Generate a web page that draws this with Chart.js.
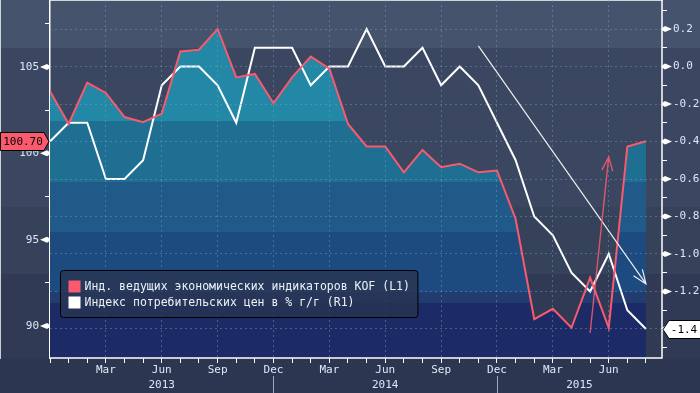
<!DOCTYPE html>
<html lang="ru">
<head>
  <meta charset="UTF-8" />
  <title>KOF и инфляция</title>
  <script src="https://cdn.jsdelivr.net/npm/chart.js"></script>
  <style>
    html, body {
      margin: 0;
      padding: 0;
      background: #2d3650;
    }
    #wrap {
      width: 700px;
      height: 393px;
    }
  </style>
</head>
<body>
  <div id="wrap"><canvas id="chart" width="700" height="393"></canvas></div>

  <script>
    // one point per month boundary, Dec 2012 .. Aug 2015
    const months = ['Dec',
      'Jan', 'Feb', 'Mar', 'Apr', 'May', 'Jun', 'Jul', 'Aug', 'Sep', 'Oct', 'Nov', 'Dec',
      'Jan', 'Feb', 'Mar', 'Apr', 'May', 'Jun', 'Jul', 'Aug', 'Sep', 'Oct', 'Nov', 'Dec',
      'Jan', 'Feb', 'Mar', 'Apr', 'May', 'Jun', 'Jul', 'Aug'];
    const quarterMonths = [3, 6, 9, 12, 15, 18, 21, 24, 27, 30];
    const years = ['2013', '2014', '2015'];
    const yearStarts = [0, 12, 24];

    const kof = [103.6, 101.7, 104.1, 103.5, 102.1, 101.8, 102.3, 105.9, 106.0, 107.2,
      104.4, 104.6, 102.9, 104.4, 105.6, 104.9, 101.7, 100.4, 100.4, 98.9,
      100.2, 99.2, 99.4, 98.9, 99.0, 96.2, 90.4, 91.0, 89.9, 92.8,
      89.9, 100.4, 100.7];
    const cpi = [-0.4, -0.3, -0.3, -0.6, -0.6, -0.5, -0.1, 0.0, 0.0, -0.1,
      -0.3, 0.1, 0.1, 0.1, -0.1, 0.0, 0.0, 0.2, 0.0, 0.0,
      0.1, -0.1, 0.0, -0.1, -0.3, -0.5, -0.8, -0.9, -1.1, -1.2,
      -1.0, -1.3, -1.4];

    const kofTicks = [90, 92.5, 95, 97.5, 100, 102.5, 105, 107.5];
    const kofLabels = [90, 95, 100, 105];
    const cpiTicks = [-1.5, -1.4, -1.3, -1.2, -1.1, -1.0, -0.9, -0.8, -0.7, -0.6,
      -0.5, -0.4, -0.3, -0.2, -0.1, 0.0, 0.1, 0.2, 0.3];
    const cpiLabels = [-1.4, -1.2, -1.0, -0.8, -0.6, -0.4, -0.2, 0.0, 0.2];

    // hand drawn arrows: [month index, value] from -> to
    const cpiArrow = [[23, 0.11], [32, -1.16]];
    const kofArrow = [[29, 89.6], [30, 99.8]];

    const RED = '#f95a6e';
    const TXT = '#dce8f8';
    const GRID = 'rgba(120, 160, 200, 0.45)';
    const FONT = "'DejaVu Sans Mono', monospace";

    // horizontal shading of the whole picture (px from top)
    const bgBands = [[0, 48, '#45536d'], [48, 207, '#3b4660'], [207, 274, '#36415a'],
      [274, 358, '#303a54'], [358, 393, '#2d3650']];
    // shading of the KOF area (fraction of plot height)
    const fillBands = [[0, 0.338, '#2387a6'], [0.338, 0.508, '#1f6f93'], [0.508, 0.648, '#1f5a88'],
      [0.648, 0.816, '#1e4b7f'], [0.816, 0.846, '#233c70'], [0.846, 1, '#1c2a65']];

    function areaFill(context) {
      const a = context.chart.chartArea;
      if (!a) return 'transparent';
      const g = context.chart.ctx.createLinearGradient(0, a.top, 0, a.bottom);
      fillBands.forEach(b => {
        g.addColorStop(b[0], b[2]);
        g.addColorStop(b[1], b[2]);
      });
      return g;
    }

    // fixed box sizes so the plot sits where the original has it
    function fitBox(size, horizontal) {
      return s => {
        if (horizontal) s.height = size; else s.width = size;
        s.paddingTop = 0;
        s.paddingBottom = 0;
        s.paddingLeft = 0;
        s.paddingRight = 0;
      };
    }

    const background = {
      id: 'background',
      beforeDraw(chart) {
        const ctx = chart.ctx;
        ctx.save();
        bgBands.forEach(b => {
          ctx.fillStyle = b[2];
          ctx.fillRect(0, b[0], chart.width, b[1] - b[0]);
        });
        ctx.restore();
      }
    };

    function arrow(ctx, x1, y1, x2, y2, color, width) {
      const ang = Math.atan2(y1 - y2, x1 - x2);
      const len = 15, spread = 0.37;
      ctx.strokeStyle = color;
      ctx.lineWidth = width;
      ctx.beginPath();
      ctx.moveTo(x1, y1);
      ctx.lineTo(x2, y2);
      ctx.moveTo(x2 + len * Math.cos(ang - spread), y2 + len * Math.sin(ang - spread));
      ctx.lineTo(x2, y2);
      ctx.lineTo(x2 + len * Math.cos(ang + spread), y2 + len * Math.sin(ang + spread));
      ctx.stroke();
    }

    const decorations = {
      id: 'decorations',
      afterDraw(chart) {
        const ctx = chart.ctx;
        const a = chart.chartArea;
        const x = chart.scales.x, yL = chart.scales.yL, yR = chart.scales.yR;
        ctx.save();

        // solid axis lines (the grid dash must not reach them)
        ctx.strokeStyle = '#ffffff';
        ctx.lineWidth = 1.5;
        ctx.beginPath();
        ctx.moveTo(a.left, a.bottom);
        ctx.lineTo(a.right, a.bottom);
        ctx.lineTo(a.right, a.top);
        ctx.stroke();

        // little pointers on labelled ticks
        ctx.fillStyle = '#ffffff';
        kofLabels.forEach(v => {
          const y = yL.getPixelForValue(v);
          ctx.beginPath();
          ctx.moveTo(a.left - 10, y);
          ctx.lineTo(a.left - 3, y - 3);
          ctx.lineTo(a.left, y - 1);
          ctx.lineTo(a.left, y + 1);
          ctx.lineTo(a.left - 3, y + 3);
          ctx.closePath();
          ctx.fill();
        });
        cpiLabels.forEach(v => {
          const y = yR.getPixelForValue(v);
          ctx.beginPath();
          ctx.moveTo(a.right + 10, y);
          ctx.lineTo(a.right + 3, y - 3);
          ctx.lineTo(a.right, y - 1);
          ctx.lineTo(a.right, y + 1);
          ctx.lineTo(a.right + 3, y + 3);
          ctx.closePath();
          ctx.fill();
        });

        // years under the months
        ctx.font = '11px ' + FONT;
        ctx.fillStyle = TXT;
        ctx.textAlign = 'center';
        ctx.textBaseline = 'middle';
        years.forEach((yr, i) => {
          const from = x.getPixelForValue(yearStarts[i]);
          const to = i + 1 < yearStarts.length ? x.getPixelForValue(yearStarts[i + 1]) : a.right;
          ctx.fillText(yr, (from + to) / 2, a.bottom + 27);
        });
        ctx.strokeStyle = '#9aa6ba';
        ctx.lineWidth = 1;
        yearStarts.slice(1).forEach(m => {
          const px = Math.round(x.getPixelForValue(m)) + 0.5;
          ctx.beginPath();
          ctx.moveTo(px, a.bottom + 18);
          ctx.lineTo(px, chart.height);
          ctx.stroke();
        });

        // arrows
        arrow(ctx, x.getPixelForValue(cpiArrow[0][0]), yR.getPixelForValue(cpiArrow[0][1]),
          x.getPixelForValue(cpiArrow[1][0]), yR.getPixelForValue(cpiArrow[1][1]), 'rgba(255,255,255,0.9)', 1.2);
        arrow(ctx, x.getPixelForValue(kofArrow[0][0]), yL.getPixelForValue(kofArrow[0][1]),
          x.getPixelForValue(kofArrow[1][0]), yL.getPixelForValue(kofArrow[1][1]), 'rgba(249,90,110,0.85)', 1.4);

        // legend box
        const lx = a.left + 10.5, ly = a.bottom - 87.5;
        ctx.font = '11.5px ' + FONT;
        const labels = chart.data.datasets.map(d => d.label);
        const w = Math.max(...labels.map(t => ctx.measureText(t).width)) + 32;
        ctx.beginPath();
        ctx.roundRect(lx, ly, w, 47, 3);
        ctx.fillStyle = 'rgba(40, 52, 82, 0.8)';
        ctx.fill();
        ctx.strokeStyle = '#000000';
        ctx.lineWidth = 1;
        ctx.stroke();
        ctx.textAlign = 'left';
        chart.data.datasets.forEach((d, i) => {
          const cy = ly + 16 + i * 16;
          ctx.fillStyle = d.borderColor;
          ctx.fillRect(lx + 8, cy - 6, 12, 12);
          ctx.fillStyle = '#eef2f8';
          ctx.fillText(d.label, lx + 24, cy + 1);
        });

        // last value tags
        ctx.font = '11px ' + FONT;
        let ty = Math.round(yL.getPixelForValue(kof[kof.length - 1])) + 0.5;
        ctx.beginPath();
        ctx.moveTo(0.5, ty - 9);
        ctx.lineTo(a.left - 6, ty - 9);
        ctx.lineTo(a.left - 1, ty);
        ctx.lineTo(a.left - 6, ty + 9);
        ctx.lineTo(0.5, ty + 9);
        ctx.closePath();
        ctx.fillStyle = RED;
        ctx.fill();
        ctx.strokeStyle = '#000000';
        ctx.stroke();
        ctx.fillStyle = '#000000';
        ctx.textAlign = 'center';
        ctx.fillText(kof[kof.length - 1].toFixed(2), 23, ty + 1);

        ty = Math.round(yR.getPixelForValue(cpi[cpi.length - 1])) + 0.5;
        ctx.beginPath();
        ctx.moveTo(a.right + 1, ty);
        ctx.lineTo(a.right + 7, ty - 9);
        ctx.lineTo(chart.width + 2, ty - 9);
        ctx.lineTo(chart.width + 2, ty + 9);
        ctx.lineTo(a.right + 7, ty + 9);
        ctx.closePath();
        ctx.fillStyle = '#ffffff';
        ctx.fill();
        ctx.strokeStyle = '#000000';
        ctx.stroke();
        ctx.fillStyle = '#000000';
        ctx.fillText(cpi[cpi.length - 1].toFixed(1), a.right + 22, ty + 1);

        ctx.restore();
      }
    };

    const tickFont = { family: FONT, size: 11 };

    new Chart(document.getElementById('chart'), {
      type: 'line',
      data: {
        datasets: [{
          label: 'Инд. ведущих экономических индикаторов KOF (L1)',
          data: kof.map((v, i) => ({ x: i, y: v })),
          yAxisID: 'yL',
          borderColor: RED,
          borderWidth: 2,
          pointRadius: 0,
          tension: 0,
          fill: 'start',
          backgroundColor: areaFill
        }, {
          label: 'Индекс потребительских цен в % г/г (R1)',
          data: cpi.map((v, i) => ({ x: i, y: v })),
          yAxisID: 'yR',
          borderColor: '#ffffff',
          borderWidth: 2,
          pointRadius: 0,
          tension: 0,
          fill: false
        }]
      },
      options: {
        responsive: false,
        animation: false,
        layout: { padding: 0 },
        plugins: {
          legend: { display: false },
          tooltip: { enabled: false },
          filler: { drawTime: 'beforeDatasetsDraw' }
        },
        scales: {
          x: {
            type: 'linear',
            bounds: 'data',
            min: 0,
            max: 32.86,
            afterFit: fitBox(35, true),
            afterBuildTicks: s => { s.ticks = months.map((m, i) => ({ value: i })); },
            ticks: {
              autoSkip: false,
              maxRotation: 0,
              minRotation: 0,
              padding: 1,
              color: TXT,
              font: tickFont,
              callback: v => quarterMonths.includes(v) ? months[v] : ''
            },
            grid: {
              z: 1,
              color: c => (c.tick && quarterMonths.includes(c.tick.value)) ? GRID : 'transparent',
              tickColor: '#ffffff',
              tickLength: 5
            },
            border: { color: '#ffffff', width: 1.5, dash: [2, 3] }
          },
          yL: {
            position: 'left',
            bounds: 'data',
            min: 88.15,
            max: 108.88,
            afterFit: fitBox(50, false),
            afterBuildTicks: s => { s.ticks = kofTicks.map(v => ({ value: v })); },
            ticks: {
              padding: 6,
              color: TXT,
              font: tickFont,
              callback: v => kofLabels.includes(v) ? String(v) : ''
            },
            grid: { drawOnChartArea: false, tickColor: '#ffffff', tickLength: 5 },
            border: { color: '#ffffff', width: 1.5 }
          },
          yR: {
            position: 'right',
            bounds: 'data',
            min: -1.555,
            max: 0.355,
            afterFit: fitBox(38, false),
            afterBuildTicks: s => { s.ticks = cpiTicks.map(v => ({ value: v })); },
            ticks: {
              padding: 6,
              color: TXT,
              font: tickFont,
              callback: v => cpiLabels.includes(v) ? v.toFixed(1) : ''
            },
            grid: {
              z: 1,
              color: c => (c.tick && cpiLabels.includes(c.tick.value)) ? GRID : 'transparent',
              tickColor: '#ffffff',
              tickLength: 5
            },
            border: { color: '#ffffff', width: 1.5, dash: [2, 3] }
          }
        }
      },
      plugins: [background, decorations]
    });
  </script>
</body>
</html>
